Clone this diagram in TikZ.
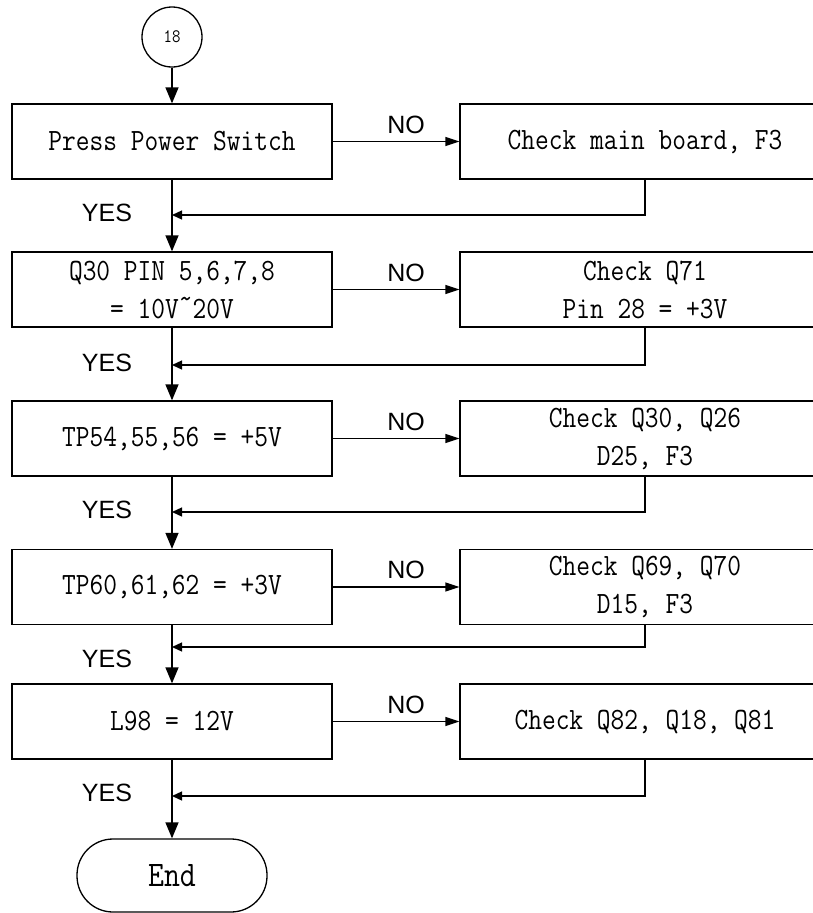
\documentclass[tikz,border=0pt]{standalone}
\usepackage{fontspec}
\setmonofont{Latin Modern Mono}[FakeStretch=0.86]
\newfontfamily\sansf{Liberation Sans}
\usetikzlibrary{arrows.meta}
\begin{document}
\begin{tikzpicture}[x=1pt,y=-1pt, line width=1.3pt,
  lbox/.style={draw, minimum width=320pt, minimum height=75pt, inner sep=0pt,
    font=\ttfamily\fontsize{31}{38}\selectfont, align=center},
  rbox/.style={lbox, minimum width=370pt},
  lab/.style={font=\sansf\fontsize{25}{25}\selectfont, inner sep=0pt},
  down/.style={-{Triangle[length=16pt,width=13pt]}},
  side/.style={-{Triangle[length=14pt,width=9pt]}},
  back/.style={-{Triangle[length=10pt,width=9pt]}}]
\useasboundingbox (0,0) rectangle (813,913);

\node[draw, circle, minimum size=60pt, inner sep=0pt, font=\ttfamily\fontsize{19}{19}\selectfont] (start) at (172,37) {18};

\node[lbox] (b1) at (172,141.5) {Press Power Switch};
\node[lbox] (b2) at (172,289.5) {Q30 PIN 5,6,7,8\\= 10V\raisebox{0.3em}{\textasciitilde}20V};
\node[lbox] (b3) at (172,438.5) {TP54,55,56 = +5V};
\node[lbox] (b4) at (172,587) {TP60,61,62 = +3V};
\node[lbox] (b5) at (172,721.5) {L98 = 12V};

\node[rbox] (r1) at (645,141.5) {Check main board, F3};
\node[rbox] (r2) at (645,289.5) {Check Q71\\Pin 28 = +3V};
\node[rbox] (r3) at (645,438.5) {Check Q30, Q26\\D25, F3};
\node[rbox] (r4) at (645,587) {Check Q69, Q70\\D15, F3};
\node[rbox] (r5) at (645,721.5) {Check Q82, Q18, Q81};

\node[draw, rounded corners=36pt, minimum width=190pt, minimum height=73pt, inner sep=0pt,
  font=\ttfamily\fontsize{36}{36}\selectfont] (end) at (172,875.5) {End};

\coordinate (m1) at (172,215);
\coordinate (m2) at (172,365);
\coordinate (m3) at (172,512);
\coordinate (m4) at (172,647);
\coordinate (m5) at (172,796);

\draw[down] (start) -- (b1);
\draw[down] (b1) -- (b2);
\draw[down] (b2) -- (b3);
\draw[down] (b3) -- (b4);
\draw[down] (b4) -- (b5);
\draw[down] (b5) -- (end);

\foreach \i in {1,...,5} {
  \draw[side] (b\i) -- (r\i);
  \draw[back] (r\i.south) |- (m\i);
}

\node[lab] (n1) at (406,125) {NO};
\node[lab] (n2) at (406,273) {NO};
\node[lab] (n3) at (406,422) {NO};
\node[lab] (n4) at (406,570) {NO};
\node[lab] (n5) at (406,705) {NO};

\node[lab] (y1) at (107,213) {YES};
\node[lab] (y2) at (107,363) {YES};
\node[lab] (y3) at (107,510) {YES};
\node[lab] (y4) at (107,659) {YES};
\node[lab] (y5) at (107,793) {YES};
\end{tikzpicture}
\end{document}
